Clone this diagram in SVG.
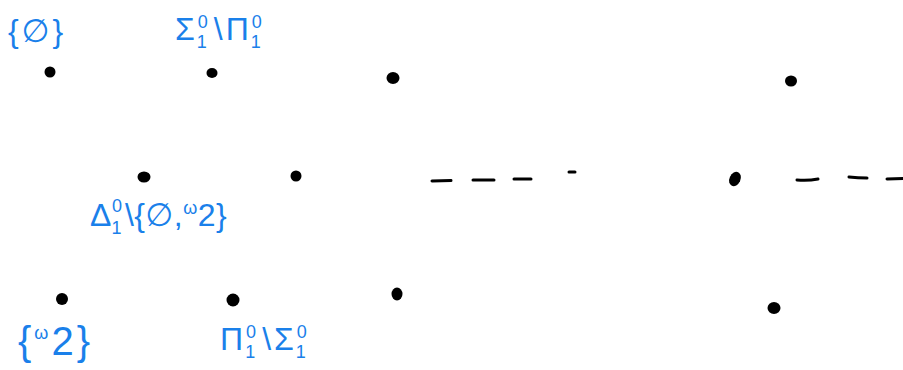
<svg xmlns="http://www.w3.org/2000/svg" width="903" height="370" viewBox="0 0 903 370">
<style>
.lbl{font-family:"Liberation Sans","DejaVu Sans",sans-serif;fill:#1a80ea;font-size:32px;letter-spacing:3px}
.sm{font-size:18px}
.dot{fill:#000}
.dash{stroke:#000;stroke-width:3;stroke-linecap:round;fill:none}
</style>
<rect width="903" height="370" fill="#fff"/>
<g id="n1"><ellipse class="dot" cx="50" cy="72" rx="5.5" ry="5.5"/><text class="lbl" x="8" y="42">{∅}</text></g>
<g id="n2"><ellipse class="dot" cx="212" cy="73" rx="5.5" ry="5"/><text class="lbl" x="175" y="40">Σ<tspan class="sm" dy="-12">0</tspan><tspan class="sm" dx="-14" dy="20">1</tspan><tspan dx="4" dy="-8">\Π</tspan><tspan class="sm" dy="-12">0</tspan><tspan class="sm" dx="-14" dy="20">1</tspan></text></g>
<g id="n3"><ellipse class="dot" cx="393" cy="78" rx="6.5" ry="6"/></g>
<g id="n4"><ellipse class="dot" cx="791" cy="81" rx="6" ry="5.5"/></g>
<g id="n5"><ellipse class="dot" cx="144" cy="177" rx="6.5" ry="5.5"/><text class="lbl" x="90" y="226" style="letter-spacing:0.5px">Δ<tspan class="sm" dy="-14">0</tspan><tspan class="sm" dx="-11" dy="22">1</tspan><tspan dx="3" dy="-8">\{∅,</tspan><tspan class="sm" dy="-12">ω</tspan><tspan dy="12">2}</tspan></text></g>
<g id="n6"><ellipse class="dot" cx="296" cy="176" rx="5.5" ry="5.5"/></g>
<g id="n7"><ellipse class="dot" cx="735" cy="179" rx="5.5" ry="7.5" transform="rotate(25 735 179)"/></g>
<g id="n8"><ellipse class="dot" cx="62" cy="299" rx="6" ry="6"/><text class="lbl" x="18" y="355" style="font-size:40px">{<tspan class="sm" dy="-16">ω</tspan><tspan dy="16">2}</tspan></text></g>
<g id="n9"><ellipse class="dot" cx="233" cy="300" rx="6.5" ry="6.5"/><text class="lbl" x="220" y="350">Π<tspan class="sm" dy="-12">0</tspan><tspan class="sm" dx="-14" dy="20">1</tspan><tspan dx="4" dy="-8">\Σ</tspan><tspan class="sm" dy="-12">0</tspan><tspan class="sm" dx="-14" dy="20">1</tspan></text></g>
<g id="n10"><ellipse class="dot" cx="397" cy="294" rx="5.5" ry="6.5"/></g>
<g id="n11"><ellipse class="dot" cx="774" cy="308" rx="6.5" ry="6"/></g>
<g id="connectors">
<path class="dash" d="M432 181 L451 180.5"/>
<path class="dash" d="M473 180 L494 180"/>
<path class="dash" d="M514 179 L531 179"/>
<path class="dash" d="M569 172 L575 172"/>
<path class="dash" d="M797 180 Q808 181 818 179"/>
<path class="dash" d="M849 177 Q858 178 867 178"/>
<path class="dash" d="M887 179 L903 178.5"/>
</g>
</svg>
